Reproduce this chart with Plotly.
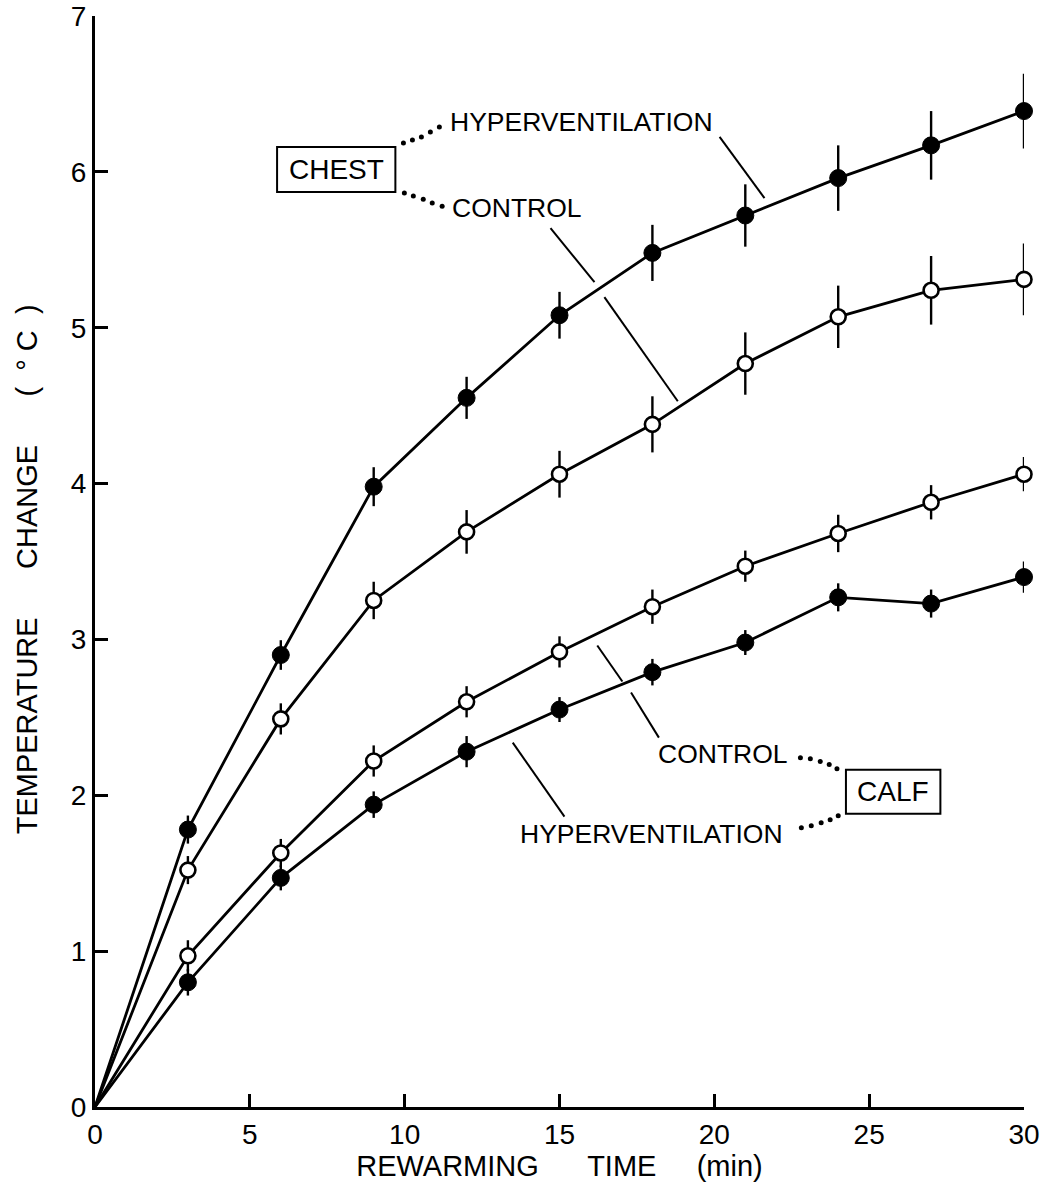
import plotly.graph_objects as go

# Rewarming time (min) at which each temperature change was measured
times = [3, 6, 9, 12, 15, 18, 21, 24, 27, 30]

# Mean temperature change (deg C) and standard error for each site / condition
chest_hyper = [1.78, 2.90, 3.98, 4.55, 5.08, 5.48, 5.72, 5.96, 6.17, 6.39]
chest_hyper_se = [0.09, 0.095, 0.125, 0.135, 0.15, 0.18, 0.20, 0.21, 0.22, 0.24]

chest_ctrl = [1.52, 2.49, 3.25, 3.69, 4.06, 4.38, 4.77, 5.07, 5.24, 5.31]
chest_ctrl_se = [0.09, 0.10, 0.12, 0.14, 0.15, 0.18, 0.20, 0.20, 0.22, 0.23]

calf_ctrl = [0.97, 1.63, 2.22, 2.60, 2.92, 3.21, 3.47, 3.68, 3.88, 4.06]
calf_ctrl_se = [0.10, 0.09, 0.10, 0.10, 0.10, 0.11, 0.10, 0.12, 0.11, 0.11]

calf_hyper = [0.80, 1.47, 1.94, 2.28, 2.55, 2.79, 2.98, 3.27, 3.23, 3.40]
calf_hyper_se = [0.085, 0.08, 0.085, 0.10, 0.08, 0.085, 0.08, 0.09, 0.09, 0.10]

x_ticks = [0, 5, 10, 15, 20, 25, 30]
y_ticks = [0, 1, 2, 3, 4, 5, 6, 7]

FONT = "Liberation Sans, Arial, sans-serif"
INK = "black"
NB = "\u00a0"

series = [
    (chest_hyper, chest_hyper_se, True),
    (chest_ctrl, chest_ctrl_se, False),
    (calf_ctrl, calf_ctrl_se, False),
    (calf_hyper, calf_hyper_se, True),
]

fig = go.Figure()

# connecting lines, each starting from the origin
for vals, se, filled in series:
    fig.add_trace(go.Scatter(
        x=[0] + times, y=[0] + vals, mode="lines",
        line=dict(color=INK, width=2.8), hoverinfo="skip", cliponaxis=False,
    ))

# markers with SE bars (no caps)
for vals, se, filled in series:
    fig.add_trace(go.Scatter(
        x=times, y=vals, mode="markers",
        marker=dict(
            symbol="circle", size=17 if filled else 15,
            color=INK if filled else "white",
            line=dict(color=INK, width=1 if filled else 2.6),
        ),
        error_y=dict(type="data", array=se, visible=True, color=INK,
                     thickness=2.4, width=0),
        cliponaxis=False,
    ))

# dotted connectors from the site boxes to the condition labels
dot_paths = [
    ([9.96, 10.25, 10.54, 10.83, 11.12], [6.185, 6.205, 6.224, 6.256, 6.288]),
    ([9.99, 10.28, 10.60, 10.89, 11.21], [5.864, 5.845, 5.825, 5.800, 5.780]),
    ([22.78, 23.10, 23.42, 23.71, 23.96], [2.241, 2.235, 2.216, 2.197, 2.171]),
    ([22.81, 23.13, 23.45, 23.74, 24.00], [1.792, 1.805, 1.824, 1.843, 1.869]),
]
for dx, dy in dot_paths:
    fig.add_trace(go.Scatter(
        x=dx, y=dy, mode="markers",
        marker=dict(size=5, color=INK, line=dict(width=0)),
        hoverinfo="skip", cliponaxis=False,
    ))

# leader lines from labels to curves (broken where they cross another curve)
leaders = [
    (20.17, 6.224, 21.62, 5.832),
    (14.71, 5.639, 16.13, 5.292),
    (16.45, 5.196, 18.82, 4.528),
    (16.22, 2.961, 17.03, 2.730),
    (17.31, 2.659, 18.21, 2.370),
    (13.49, 2.338, 15.16, 1.863),
]
shapes = []
for x0, y0, x1, y1 in leaders:
    shapes.append(dict(type="line", xref="x", yref="y", x0=x0, y0=y0, x1=x1, y1=y1,
                       line=dict(color=INK, width=2)))

# boxes around the site names
shapes.append(dict(type="rect", xref="x", yref="y", x0=5.88, x1=9.70, y0=5.87, y1=6.16,
                   line=dict(color=INK, width=2)))
shapes.append(dict(type="rect", xref="x", yref="y", x0=24.25, x1=27.30, y0=1.882, y1=2.164,
                   line=dict(color=INK, width=2)))

label_font = dict(family=FONT, size=26.5, color=INK)
annotations = [
    dict(x=7.79, y=6.015, text="CHEST", xanchor="center", font=dict(family=FONT, size=28, color=INK)),
    dict(x=25.78, y=2.023, text="CALF", xanchor="center", font=dict(family=FONT, size=28, color=INK)),
    dict(x=11.40, y=6.32, text="HYPERVENTILATION", xanchor="left"),
    dict(x=11.46, y=5.77, text="CONTROL", xanchor="left"),
    dict(x=18.10, y=2.267, text="CONTROL", xanchor="left"),
    dict(x=13.65, y=1.753, text="HYPERVENTILATION", xanchor="left"),
]
for a in annotations:
    a.setdefault("font", label_font)
    a.update(xref="x", yref="y", yanchor="middle", showarrow=False)

# vertical axis title, placed in paper coordinates left of the tick labels
annotations.append(dict(
    xref="paper", yref="paper", x=-0.073, y=0.493, xanchor="center", yanchor="middle",
    textangle=-90, showarrow=False,
    text="TEMPERATURE" + NB * 6 + "CHANGE" + NB * 6 + "(" + NB * 2 + "°" + NB + "C" + NB * 2 + ")",
    font=dict(family=FONT, size=29, color=INK),
))

fig.update_layout(
    width=1057, height=1191,
    margin=dict(l=95, r=33, t=16, b=84),
    plot_bgcolor="white", paper_bgcolor="white",
    showlegend=False,
    shapes=shapes, annotations=annotations,
    font=dict(family=FONT, color=INK),
)

fig.update_xaxes(
    range=[0, 30], tickvals=x_ticks, ticktext=[str(v) for v in x_ticks],
    automargin=False,
    showgrid=False, zeroline=False, showline=True, linecolor=INK, linewidth=3,
    ticks="inside", ticklen=13, tickwidth=2.5, tickcolor=INK,
    tickfont=dict(family=FONT, size=28, color=INK),
    title=dict(text="REWARMING" + NB * 6 + "TIME" + NB * 5 + "(min)",
               font=dict(family=FONT, size=29, color=INK), standoff=6),
)
fig.update_yaxes(
    range=[0, 7], tickvals=y_ticks, ticktext=[str(v) for v in y_ticks],
    automargin=False,
    showgrid=False, zeroline=False, showline=True, linecolor=INK, linewidth=3,
    ticks="inside", ticklen=13, tickwidth=2.5, tickcolor=INK,
    tickfont=dict(family=FONT, size=28, color=INK),
)

fig.write_html("out.html")
